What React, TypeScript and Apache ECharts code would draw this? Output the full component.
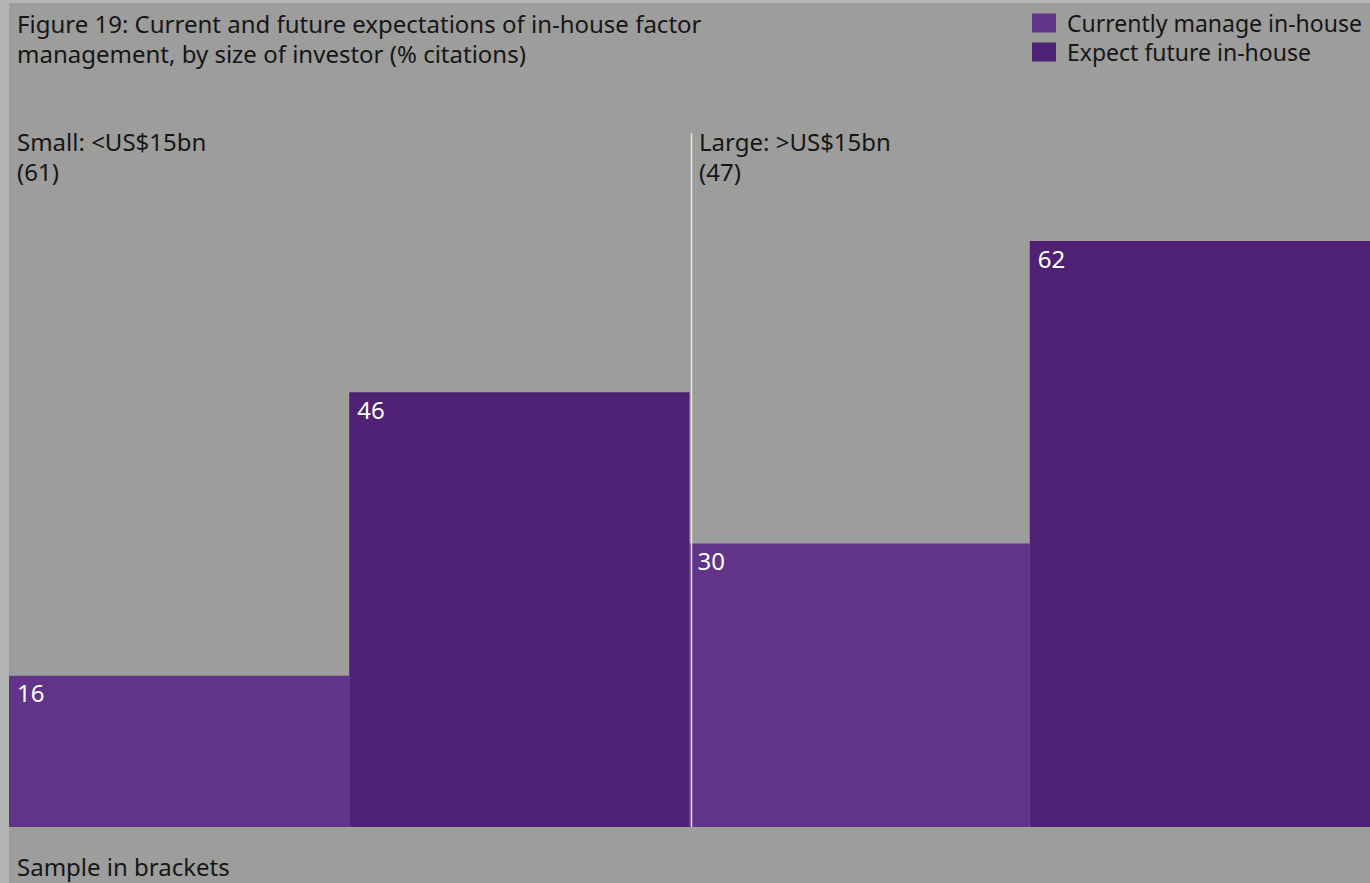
import React, { useEffect, useRef } from "react";
import * as echarts from "echarts";

const categories = ["Small: <US$15bn", "Large: >US$15bn"];
const samples = [61, 47];
const currentInHouse = [16, 30];
const futureInHouse = [46, 62];
const seriesNames = ["Currently manage in-house", "Expect future in-house"];

const FONT = "'Noto Sans', 'DejaVu Sans', sans-serif";
const TXT = "#161616";

export default function App() {
  const ref = useRef<HTMLDivElement>(null);
  useEffect(() => {
    document.body.style.margin = "0";
    document.body.style.background = "#b4b4b4";
    const chart = echarts.init(ref.current!, null, { renderer: "svg" });
    const groupLabels = categories.map((c, i) => ({
      type: "text",
      x: i === 0 ? 8 : 690,
      y: 123.5,
      style: {
        text: c + "\n(" + samples[i] + ")",
        fill: TXT,
        font: `24px ${FONT}`,
        lineHeight: 30,
        verticalAlign: "top",
      },
    }));
    const labelCfg = {
      show: true,
      position: "insideTopLeft",
      distance: 8,
      offset: [0, -3],
      color: "#ffffff",
      fontSize: 24,
      fontFamily: FONT,
    };
    chart.setOption({
      animation: false,
      backgroundColor: "#9d9d9c",
      title: {
        text: "Figure 19: Current and future expectations of in-house factor\nmanagement, by size of investor (% citations)",
        left: 8,
        top: 5,
        padding: 0,
        textStyle: { color: TXT, fontSize: 24, fontWeight: "normal", fontFamily: FONT, lineHeight: 30 },
      },
      legend: {
        orient: "vertical",
        left: 1023,
        top: 8.5,
        padding: 0,
        icon: "rect",
        itemWidth: 24,
        itemHeight: 19,
        itemGap: 6,
        textStyle: { color: TXT, fontSize: 23, fontFamily: FONT, lineHeight: 19, padding: [0, 0, 0, 6] },
        data: seriesNames,
      },
      grid: { left: 0, right: 0, top: 162.5, bottom: 56, containLabel: false },
      xAxis: {
        type: "category",
        data: categories,
        axisLine: { show: false },
        axisTick: { show: false },
        axisLabel: { show: false },
      },
      yAxis: {
        type: "value",
        min: 0,
        max: 70,
        show: false,
        splitLine: { show: false },
      },
      series: [
        {
          name: seriesNames[0],
          type: "bar",
          data: currentInHouse,
          barGap: "0%",
          barCategoryGap: "0%",
          itemStyle: { color: "#61348a" },
          label: labelCfg,
        },
        {
          name: seriesNames[1],
          type: "bar",
          data: futureInHouse,
          barGap: "0%",
          barCategoryGap: "0%",
          itemStyle: { color: "#4e2175" },
          label: labelCfg,
        },
      ],
      graphic: [
        ...groupLabels,
        {
          type: "line",
          shape: { x1: 682.5, y1: 130, x2: 682.5, y2: 824 },
          style: { stroke: "#e6e6e6", lineWidth: 1.5 },
          z: 100,
        },
        {
          type: "text",
          x: 8,
          y: 863.5,
          style: { text: "Sample in brackets", fill: TXT, font: `24px ${FONT}`, verticalAlign: "middle" },
        },
      ],
    });
    return () => chart.dispose();
  }, []);
  return (
    <div
      ref={ref}
      style={{ position: "absolute", left: 9, top: 3, width: 1361, height: 880 }}
    />
  );
}
